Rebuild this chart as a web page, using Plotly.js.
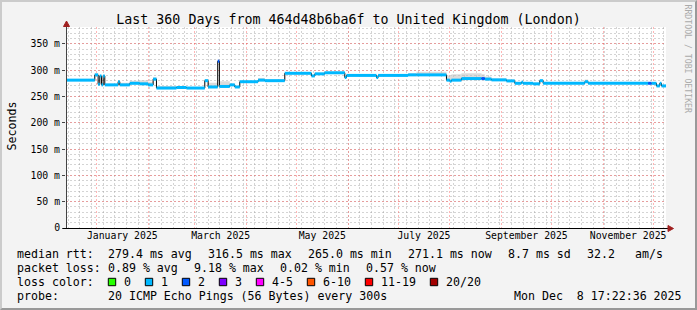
<!DOCTYPE html>
<html>
<head>
<meta charset="utf-8">
<script src="https://cdn.plot.ly/plotly-3.0.1.min.js"></script>
<style>
  html, body { margin: 0; padding: 0; background: #f3f3f3; }
  #wrap { position: relative; width: 697px; height: 310px; }
  #chart { position: absolute; left: 0; top: 0; width: 697px; height: 310px; }
  #frame { position: absolute; left: 0; top: 0; width: 697px; height: 310px; box-sizing: border-box;
           border-top: 2px solid #cbcbcb; border-left: 2px solid #cbcbcb;
           border-bottom: 2px solid #999999; border-right: 2px solid #999999; pointer-events: none; }
</style>
</head>
<body>
<div id="wrap"><div id="chart"></div><div id="frame"></div></div>
<script>
// ---------------- DATA ----------------
const rangeStart = '2024-12-13 17:22:36';
const rangeEnd   = '2025-12-08 17:22:36';

const dates = [
  '2024-12-13 17:22','2024-12-31','2025-01-02','2025-01-03','2025-01-04','2025-01-05','2025-01-06',
  '2025-01-14','2025-01-15','2025-01-21','2025-01-27','2025-02-01','2025-02-04','2025-02-06',
  '2025-02-18','2025-02-24','2025-03-07','2025-03-09','2025-03-14 18:00','2025-03-15 18:00',
  '2025-03-22','2025-03-25','2025-03-28','2025-04-08','2025-04-12','2025-04-24','2025-05-10',
  '2025-05-12','2025-05-18','2025-05-30','2025-05-31','2025-06-18','2025-06-19','2025-07-07',
  '2025-07-12','2025-07-30','2025-08-01','2025-08-02','2025-08-08','2025-08-20','2025-08-22',
  '2025-08-26','2025-09-04','2025-09-09','2025-09-13','2025-09-14','2025-09-20','2025-09-24',
  '2025-09-26','2025-10-21','2025-10-23','2025-11-28','2025-11-30','2025-12-03','2025-12-05',
  '2025-12-06','2025-12-08 17:22'
];
// median rtt in ms
const medianMs = [
  281,291,273,289,272,289,272,
  278,272,275,274,272,283,266,
  267,266,280,268,317,269,
  272,268,278,281,280,294,289,
  293,295,286,290,286,290,291,
  291,281,279,281,284,284,283,
  281.5,279.5,275,277,275,274,280,
  275,278,275,275,275,270,275,
  270,272
];
// top of the grey "smoke" in ms
const smokeTopMs = [
  283,294,276,290,276,290,274,
  281,276,280,281,278,286,270,
  269,268,282,276,317,279,
  274,270,279,285,282,295,291,
  294,297,288,291,288,292,294,
  297,290,289,292,294,292,288,
  284,282,277,278,276,275,281,
  276,282,276,276,276,272,276,
  272,273
];
// loss bucket index per segment (index into lossLabels)
const lossIdx = [
  1,1,1,1,1,1,1,
  1,1,1,1,1,1,1,
  1,1,1,1,2,1,
  1,1,1,1,1,1,1,
  1,1,1,1,1,1,1,
  1,1,1,1,1,2,1,
  1,1,1,1,1,1,1,
  1,1,1,2,1,1,1,
  1,1
];

const lossLabels = ['0','1','2','3','4-5','6-10','11-19','20/20'];
const lossColors = ['#26ff00','#00b8ff','#0059ff','#7e00ff','#ff00ff','#ff5500','#ff0000','#a10000'];

const yTickVals = [0,50,100,150,200,250,300,350];
const yTickText = ['0','50 m','100 m','150 m','200 m','250 m','300 m','350 m'];

const xLabelVals = ['2025-01-16 12:00','2025-03-16 12:00','2025-05-16 12:00','2025-07-16 12:00','2025-09-16','2025-11-16'];
const xLabelText = ['January 2025','March 2025','May 2025','July 2025','September 2025','November 2025'];

const titleText = 'Last 360 Days from 464d48b6ba6f to United Kingdom (London)';
const yTitle = 'Seconds';
const sideText = 'RRDTOOL / TOBI OETIKER';

const rttLabel = 'median rtt:';
const rttStats = ['279.4 ms avg','316.5 ms max','265.0 ms min','271.1 ms now','8.7 ms sd'];
const amsValue = '32.2';
const amsUnit = 'am/s';
const lossLabel = 'packet loss:';
const lossStats = ['0.89 % avg','9.18 % max','0.02 % min','0.57 % now'];
const lossColorLabel = 'loss color:';
const probeLabel = 'probe:';
const probeText = '20 ICMP Echo Pings (56 Bytes) every 300s';
const stampText = 'Mon Dec  8 17:22:36 2025';

// ---------------- DRAW ----------------
const MONO = 'DejaVu Sans Mono';
const PL = 66, PR = 666, PT = 27, PB = 228;
const px = x => (x - PL) / (PR - PL);
const py = y => (PB - y) / (PB - PT);

const traces = [];
traces.push({x: dates, y: medianMs, mode: 'lines', line: {width: 0, shape: 'hv'}, hoverinfo: 'skip'});
traces.push({x: dates, y: smokeTopMs, mode: 'lines', fill: 'tonexty', fillcolor: 'rgba(185,185,185,0.5)',
             line: {width: 0, shape: 'hv'}, hoverinfo: 'skip'});
traces.push({x: dates, y: medianMs, mode: 'lines', line: {color: '#000000', width: 1, shape: 'hv'}, hoverinfo: 'skip'});

const buckets = {};
for (let i = 0; i < dates.length - 1; i++) {
  const b = lossIdx[i];
  if (!buckets[b]) buckets[b] = {x: [], y: []};
  buckets[b].x.push(dates[i], dates[i + 1], null);
  buckets[b].y.push(medianMs[i], medianMs[i], null);
}
Object.keys(buckets).forEach(b => {
  traces.push({x: buckets[b].x, y: buckets[b].y, mode: 'lines', connectgaps: false,
               line: {color: lossColors[b], width: 3}, hoverinfo: 'skip'});
});
// carriers for the overlay axes (month grid, labels)
traces.push({x: [dates[0]], y: [medianMs[0]], xaxis: 'x2', mode: 'markers', marker: {opacity: 0}, hoverinfo: 'skip'});
traces.push({x: [dates[0]], y: [medianMs[0]], xaxis: 'x3', mode: 'markers', marker: {opacity: 0}, hoverinfo: 'skip'});

const annotations = [];
function txt(t, x, y, extra) {
  const a = {text: t, xref: 'paper', yref: 'paper', x: px(x), y: py(y), xanchor: 'left', yanchor: 'middle',
             showarrow: false, borderpad: 0, font: {family: MONO, size: 11.6, color: '#000'}};
  return Object.assign(a, extra || {});
}
annotations.push(txt(yTitle, 11, 126.5, {textangle: -90, xanchor: 'center'}));
annotations.push(txt(sideText, 687.5, 59, {textangle: 90, xanchor: 'center', font: {family: MONO, size: 8.2, color: '#aaaaaa'}}));

const R1 = 254.3, R2 = 268.3, R3 = 282, R4 = 296;
annotations.push(txt(rttLabel, 16, R1));
rttStats.forEach((s, i) => annotations.push(txt(s, 107.3 + i * 100, R1)));
annotations.push(txt(amsValue, 586.3, R1));
annotations.push(txt(amsUnit, 634.3, R1));
annotations.push(txt(lossLabel, 16, R2));
lossStats.forEach((s, i) => annotations.push(txt(s, 107.3 + i * 86, R2)));
annotations.push(txt(lossColorLabel, 16, R3));
annotations.push(txt(probeLabel, 16, R4));
annotations.push(txt(probeText, 107.3, R4));
annotations.push(txt(stampText, 513, R4));

const shapes = [];
let sq = 108.3;
lossLabels.forEach((lab, i) => {
  shapes.push({type: 'rect', xref: 'paper', yref: 'paper', x0: px(sq), x1: px(sq + 7.4), y0: py(285.7), y1: py(278.3),
               fillcolor: lossColors[i], line: {color: '#000', width: 1}});
  annotations.push(txt(lab, sq + 15, R3));
  sq = sq + 15 + lab.length * 7 + 15;
});
shapes.push({type: 'line', xref: 'paper', yref: 'paper', x0: px(66.5), x1: px(66.5), y0: py(228), y1: py(24),
             line: {color: '#444', width: 1}});
shapes.push({type: 'line', xref: 'paper', yref: 'paper', x0: px(63), x1: px(670), y0: py(228.5), y1: py(228.5),
             line: {color: '#000', width: 1}});
shapes.push({type: 'path', xref: 'paper', yref: 'paper',
             path: `M ${px(66.5)} ${py(21)} L ${px(63.5)} ${py(26.5)} L ${px(69.5)} ${py(26.5)} Z`,
             fillcolor: '#a02020', line: {color: '#a02020', width: 1}});
shapes.push({type: 'path', xref: 'paper', yref: 'paper',
             path: `M ${px(673.5)} ${py(228.5)} L ${px(668)} ${py(225.5)} L ${px(668)} ${py(231.5)} Z`,
             fillcolor: '#a02020', line: {color: '#a02020', width: 1}});

const MAJ = 'rgba(255,80,80,0.42)';
const MIN = 'rgba(160,160,160,0.45)';
const layout = {
  width: 697, height: 310,
  margin: {l: PL, r: 697 - PR, t: PT, b: 310 - PB, pad: 0},
  paper_bgcolor: '#f3f3f3', plot_bgcolor: '#ffffff',
  font: {family: MONO, size: 10, color: '#000'},
  showlegend: false,
  title: {text: titleText, font: {family: MONO, size: 13.3, color: '#000'},
          xref: 'container', x: 0.5, xanchor: 'center', yref: 'container', y: 1 - 19.5 / 310, yanchor: 'middle'},
  // weekly grey grid
  xaxis: {type: 'date', range: [rangeStart, rangeEnd], tickmode: 'linear', tick0: '2024-12-22', dtick: 7 * 86400000,
          showticklabels: false, ticks: '', showgrid: true, gridcolor: MIN, griddash: '2px,2px', gridwidth: 1,
          zeroline: false, showline: false},
  // monthly red grid
  xaxis2: {type: 'date', overlaying: 'x', anchor: 'y', side: 'bottom', range: [rangeStart, rangeEnd],
           tickmode: 'linear', tick0: '2025-01-01', dtick: 'M1', showticklabels: false, ticks: '',
           showgrid: true, gridcolor: MAJ, griddash: '2px,2px', gridwidth: 1, zeroline: false, showline: false},
  // labels centred in months
  xaxis3: {type: 'date', overlaying: 'x', anchor: 'y', side: 'bottom', range: [rangeStart, rangeEnd],
           tickmode: 'array', tickvals: xLabelVals, ticktext: xLabelText, showgrid: false, ticks: '',
           showline: false, zeroline: false, tickfont: {family: MONO, size: 9.8, color: '#000'}},
  yaxis: {range: [0, 382], tickmode: 'array', tickvals: yTickVals, ticktext: yTickText,
          ticks: 'outside', ticklen: 3, tickcolor: '#444', tickwidth: 1,
          showgrid: true, gridcolor: MAJ, griddash: '2px,2px', gridwidth: 1, zeroline: false, showline: false,
          tickfont: {family: MONO, size: 9.8, color: '#000'},
          minor: {tickmode: 'linear', tick0: 0, dtick: 10, showgrid: true, gridcolor: MIN, griddash: '2px,2px',
                  gridwidth: 1, ticks: ''}},
  annotations: annotations,
  shapes: shapes
};

Plotly.newPlot('chart', traces, layout, {staticPlot: true, displayModeBar: false});
</script>
</body>
</html>
